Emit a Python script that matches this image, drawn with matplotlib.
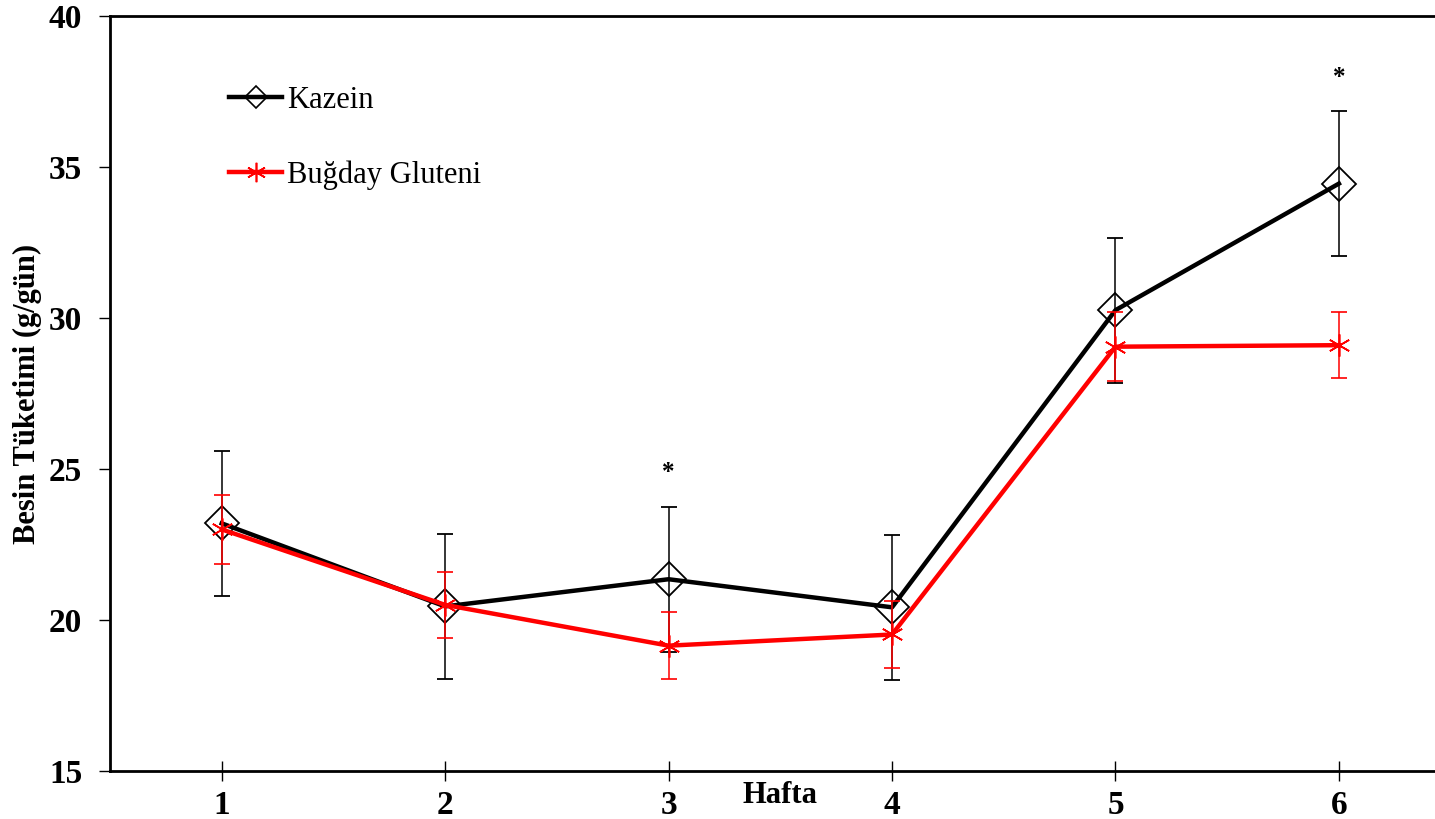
import numpy as np
import matplotlib.pyplot as plt
from matplotlib.lines import Line2D

plt.rcParams['font.family'] = ['Liberation Serif', 'DejaVu Serif']

# --- data ---
weeks = [1, 2, 3, 4, 5, 6]
kazein = [23.2, 20.45, 21.35, 20.42, 30.26, 34.45]
kazein_err = [2.4, 2.4, 2.4, 2.4, 2.4, 2.4]
gluten = [23.0, 20.5, 19.15, 19.52, 29.05, 29.1]
gluten_err = [1.15, 1.1, 1.1, 1.1, 1.15, 1.1]
star_weeks = [3, 6]
star_y = [24.9, 37.95]

fig = plt.figure(figsize=(14.35, 8.19), dpi=100)
ax = fig.add_axes([110 / 1435, 1 - 771 / 819, 1 - 110 / 1435, (771 - 16) / 819])

ax.errorbar(weeks, kazein, yerr=kazein_err, color='black', lw=3.2,
            marker='D', ms=17, mfc='none', mec='black', mew=1.3,
            ecolor='black', elinewidth=1.1, capsize=6, capthick=1.1,
            zorder=3)
ax.errorbar(weeks, gluten, yerr=gluten_err, color='red', lw=3.2,
            marker=(6, 2, 0), ms=16, mec='red', mew=1.2,
            ecolor='red', elinewidth=1.1, capsize=6, capthick=1.1,
            zorder=4)

for x, y in zip(star_weeks, star_y):
    ax.text(x, y, '*', ha='center', va='center', fontsize=18, fontweight='bold')

ax.set_xlim(0.5, 6.43)
ax.set_ylim(15, 40)
ax.set_xticks(weeks)
ax.set_yticks([15, 20, 25, 30, 35, 40])
ax.tick_params(axis='x', direction='inout', length=15, width=1, pad=6,
               labelsize=24)
ax.tick_params(axis='y', direction='out', length=8, width=1, pad=12,
               labelsize=24)
for lab in ax.get_xticklabels() + ax.get_yticklabels():
    lab.set_fontweight('bold')

ax.spines['right'].set_visible(False)
for s in ['left', 'bottom', 'top']:
    ax.spines[s].set_linewidth(2)

ax.text(3.5, -0.032, 'Hafta', transform=ax.get_xaxis_transform(),
        ha='center', va='center', fontsize=22, fontweight='bold')
ax.set_ylabel('Besin Tüketimi (g/gün)', fontsize=22, fontweight='bold',
              va='center')
ax.yaxis.set_label_coords(-0.0626, 0.5)

handles = [
    Line2D([], [], color='black', lw=3.2, marker='D', ms=11, mfc='none',
           mec='black', mew=1.2),
    Line2D([], [], color='red', lw=3.2, marker=(6, 2, 0), ms=14, mec='red',
           mew=1.2),
]
ax.legend(handles, ['Kazein', 'Buğday Gluteni'], loc='upper left',
          bbox_to_anchor=(0.069, 0.944), frameon=False, fontsize=22,
          handlelength=1.75, handletextpad=0.15, labelspacing=1.5)

fig.savefig('out.png', dpi=100)
